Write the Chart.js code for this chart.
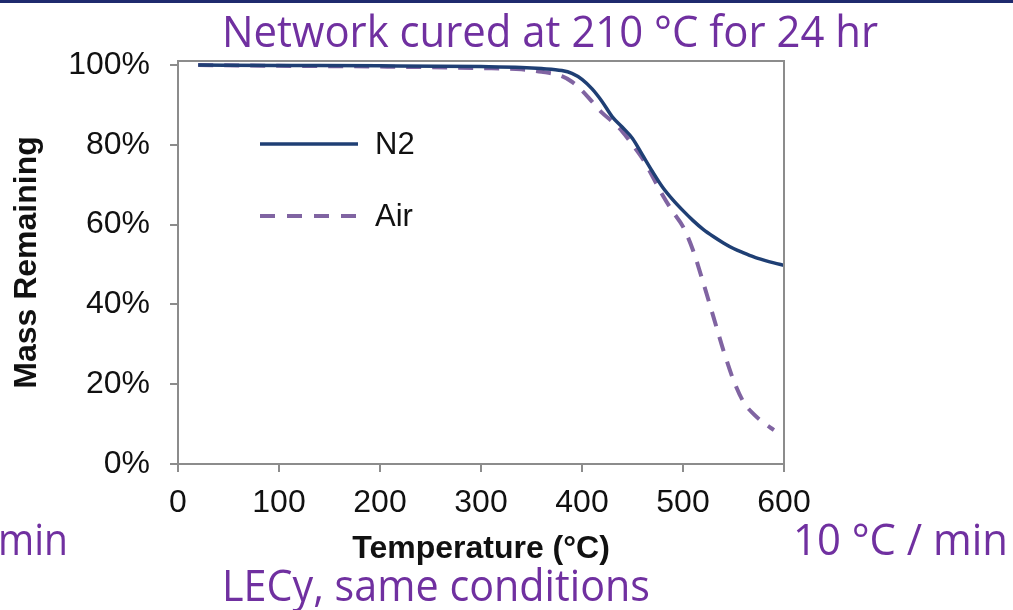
<!DOCTYPE html>
<html lang="en">
<head>
    <meta charset="UTF-8">
    <title>TGA - Network cured at 210 °C</title>
    <script src="https://cdn.jsdelivr.net/npm/chart.js"></script>
    <style>
        html, body {
            margin: 0;
            padding: 0;
            background: #fff;
            width: 1013px;
            height: 610px;
            overflow: hidden;
        }
        .topbar {
            position: absolute;
            left: 0; top: 0;
            width: 1013px;
            height: 3px;
            background: #1f2a6e;
        }
        #tga {
            position: absolute;
            left: 0; top: 0;
        }
        .slide-text {
            position: absolute;
            white-space: nowrap;
            font-family: "Open Sans", "Noto Sans", sans-serif;
            font-size: 43px;
            line-height: 1;
            color: #7030a0;
            transform-origin: 0 0;
        }
        .bl {
            display: inline-block;
            width: 0;
            height: 0;
            vertical-align: baseline;
        }
    </style>
</head>
<body>
    <div class="topbar"></div>
    <canvas id="tga" width="1013" height="610"></canvas>

    <div class="slide-text" id="txtTitle">Network cured at 210 °C for 24 hr<span class="bl"></span></div>
    <div class="slide-text" id="txtLeft">min<span class="bl"></span></div>
    <div class="slide-text" id="txtRate">10 °C / min<span class="bl"></span></div>
    <div class="slide-text" id="txtLecy">LECy, same conditions<span class="bl"></span></div>

    <script>
        // temperature (°C) and mass remaining (%)
        const tempN2 = [20, 100, 200, 300, 340, 360, 380, 390, 400, 410, 420, 430, 440, 450, 460, 470, 480, 490, 500, 510, 520, 530, 540, 550, 560, 570, 580, 590, 600];
        const massN2 = [100, 99.9, 99.8, 99.6, 99.4, 99.1, 98.6, 97.9, 96.4, 94.0, 90.8, 87.0, 84.4, 81.6, 77.4, 73.2, 69.3, 66.2, 63.5, 61.0, 58.8, 57.0, 55.4, 54.0, 52.9, 51.9, 51.1, 50.4, 49.8];

        const tempAir = [20, 100, 200, 300, 340, 360, 380, 390, 400, 410, 420, 430, 440, 450, 460, 470, 480, 490, 500, 510, 520, 530, 540, 550, 560, 570, 580, 590];
        const massAir = [100, 99.8, 99.6, 99.2, 98.9, 98.3, 97.2, 95.8, 93.6, 90.8, 88.0, 85.8, 83.3, 80.0, 76.5, 72.0, 67.3, 63.2, 59.5, 53.5, 45.5, 37.0, 28.5, 21.0, 15.5, 12.5, 10.3, 8.5];

        const seriesNames = ['N2', 'Air'];
        const xTicks = [0, 100, 200, 300, 400, 500, 600];
        const yTicks = [0, 20, 40, 60, 80, 100];

        const colN2 = '#1f3f74';
        const colAir = '#8064a2';
        const axisGray = '#8c8c8c';
        const txtFont = 'Liberation Sans, Arial, sans-serif';

        const toPoints = (xs, ys) => xs.map((x, i) => ({ x: x, y: ys[i] }));

        // plot frame + in-plot legend
        const frameAndLegend = {
            id: 'frameAndLegend',
            afterDraw(chart) {
                const { ctx, chartArea: a } = chart;
                ctx.save();
                ctx.strokeStyle = axisGray;
                ctx.lineWidth = 2;
                ctx.beginPath();
                ctx.moveTo(a.left, a.top);
                ctx.lineTo(a.right, a.top);
                ctx.lineTo(a.right, a.bottom);
                ctx.stroke();

                const rows = [
                    { name: seriesNames[0], color: colN2, dash: [], width: 3.5 },
                    { name: seriesNames[1], color: colAir, dash: [15, 12], width: 4 }
                ];
                rows.forEach((r, i) => {
                    const y = a.top + 83 + i * 72;
                    ctx.strokeStyle = r.color;
                    ctx.lineWidth = r.width;
                    ctx.setLineDash(r.dash);
                    ctx.beginPath();
                    ctx.moveTo(a.left + 82, y);
                    ctx.lineTo(a.left + 180, y);
                    ctx.stroke();
                    ctx.setLineDash([]);
                    ctx.fillStyle = '#111';
                    ctx.font = '31px ' + txtFont;
                    ctx.textBaseline = 'middle';
                    ctx.textAlign = 'left';
                    ctx.fillText(r.name, a.left + 197, y + 1);
                });
                ctx.restore();
            }
        };

        new Chart(document.getElementById('tga'), {
            type: 'line',
            data: {
                datasets: [
                    {
                        label: seriesNames[0],
                        data: toPoints(tempN2, massN2),
                        borderColor: colN2,
                        borderWidth: 3.5,
                        pointRadius: 0,
                        cubicInterpolationMode: 'monotone',
                        fill: false
                    },
                    {
                        label: seriesNames[1],
                        data: toPoints(tempAir, massAir),
                        borderColor: colAir,
                        borderWidth: 4,
                        borderDash: [15, 11],
                        pointRadius: 0,
                        cubicInterpolationMode: 'monotone',
                        fill: false
                    }
                ]
            },
            options: {
                responsive: false,
                animation: false,
                layout: { padding: { left: 0, top: 61, right: 229, bottom: 0 } },
                plugins: {
                    legend: { display: false },
                    tooltip: { enabled: false }
                },
                scales: {
                    x: {
                        type: 'linear',
                        min: 0,
                        max: 600,
                        afterBuildTicks: s => { s.ticks = xTicks.map(v => ({ value: v })); },
                        afterFit: s => { s.height = 146; },
                        grid: { drawOnChartArea: false, color: axisGray, lineWidth: 2, tickLength: 8 },
                        border: { color: axisGray, width: 2 },
                        ticks: { color: '#111', font: { family: txtFont, size: 32 }, padding: 12, maxRotation: 0 },
                        title: {
                            display: true,
                            text: 'Temperature (°C)',
                            color: '#111',
                            font: { family: txtFont, size: 32, weight: 'bold' },
                            padding: { top: 0, bottom: 42 }
                        }
                    },
                    y: {
                        type: 'linear',
                        min: 0,
                        max: 101,
                        afterBuildTicks: s => { s.ticks = yTicks.map(v => ({ value: v })); },
                        afterFit: s => { s.width = 178; },
                        grid: { drawOnChartArea: false, color: axisGray, lineWidth: 2, tickLength: 8 },
                        border: { color: axisGray, width: 2 },
                        ticks: {
                            color: '#111',
                            font: { family: txtFont, size: 32 },
                            padding: 20,
                            callback: v => v + '%'
                        },
                        title: {
                            display: true,
                            text: 'Mass Remaining',
                            color: '#111',
                            font: { family: txtFont, size: 32, weight: 'bold' },
                            padding: { top: 8, bottom: 0 }
                        }
                    }
                }
            },
            plugins: [frameAndLegend]
        });

        // slide captions: stretch to their width and sit on a baseline
        function place(id, left, width, baseline) {
            const el = document.getElementById(id);
            el.style.transform = 'none';
            el.style.left = left + 'px';
            el.style.top = '0px';
            const w = el.getBoundingClientRect().width;
            const b = el.querySelector('.bl').getBoundingClientRect().top;
            el.style.top = (baseline - b) + 'px';
            el.style.transform = 'scaleX(' + (width / w) + ')';
        }
        function placeAll() {
            place('txtTitle', 222, 656, 47);
            place('txtLeft', -2, 70, 555);
            place('txtRate', 793, 215, 555);
            place('txtLecy', 222, 428, 601);
        }
        placeAll();
        document.fonts.ready.then(placeAll);
    </script>
</body>
</html>
